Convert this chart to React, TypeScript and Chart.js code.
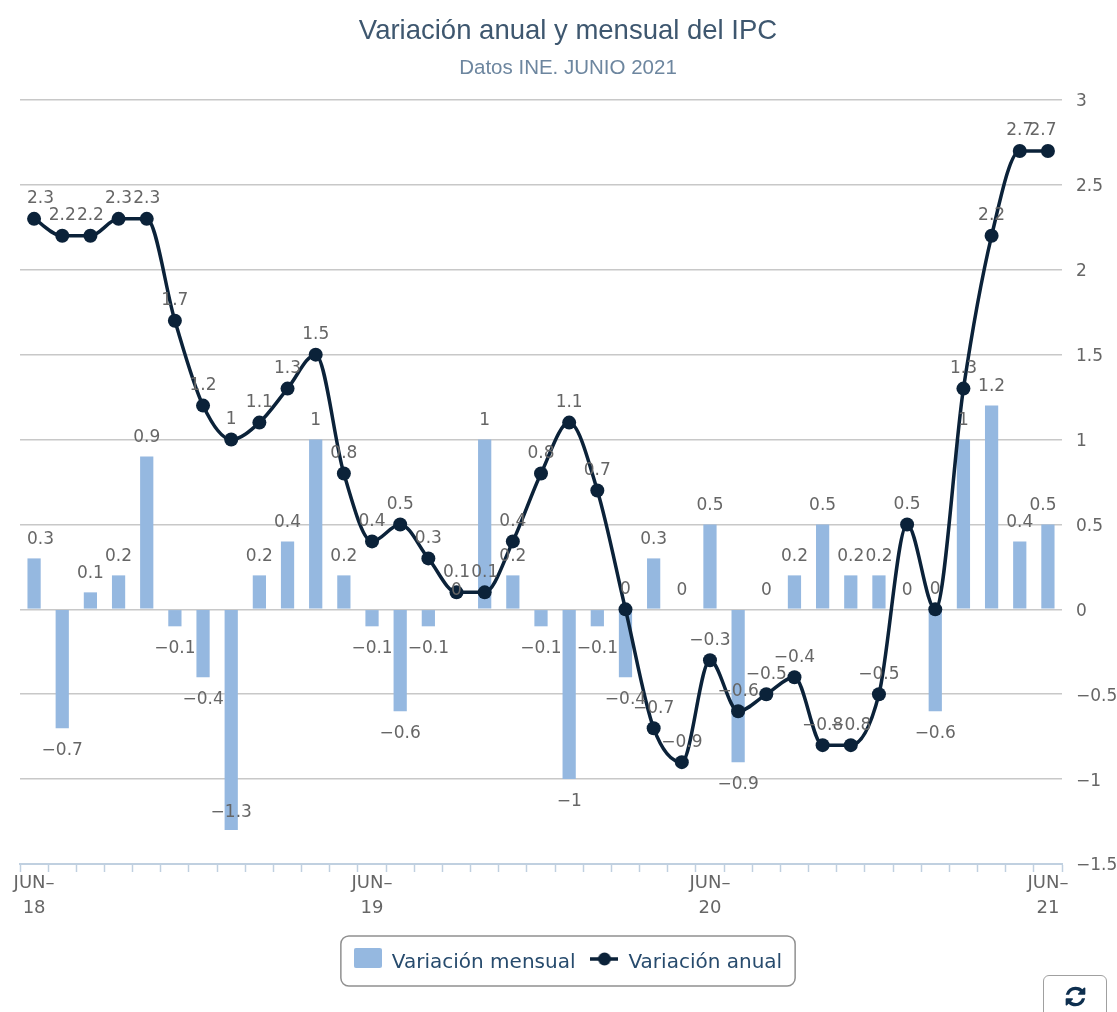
import React, { useEffect, useRef } from "react";
import { Chart, registerables } from "chart.js";

Chart.register(...registerables);

const categories = [
  "JUN-18","JUL-18","AGO-18","SEP-18","OCT-18","NOV-18","DIC-18","ENE-19","FEB-19","MAR-19","ABR-19","MAY-19",
  "JUN-19","JUL-19","AGO-19","SEP-19","OCT-19","NOV-19","DIC-19","ENE-20","FEB-20","MAR-20","ABR-20","MAY-20",
  "JUN-20","JUL-20","AGO-20","SEP-20","OCT-20","NOV-20","DIC-20","ENE-21","FEB-21","MAR-21","ABR-21","MAY-21",
  "JUN-21",
];
const variacionMensual = [
  0.3,-0.7,0.1,0.2,0.9,-0.1,-0.4,-1.3,0.2,0.4,1,0.2,
  -0.1,-0.6,-0.1,0,1,0.2,-0.1,-1,-0.1,-0.4,0.3,0,
  0.5,-0.9,0,0.2,0.5,0.2,0.2,0,-0.6,1,1.2,0.4,
  0.5,
];
const variacionAnual = [
  2.3,2.2,2.2,2.3,2.3,1.7,1.2,1,1.1,1.3,1.5,0.8,
  0.4,0.5,0.3,0.1,0.1,0.4,0.8,1.1,0.7,0,-0.7,-0.9,
  -0.3,-0.6,-0.5,-0.4,-0.8,-0.8,-0.5,0.5,0,1.3,2.2,2.7,
  2.7,
];
const TITLE = "Variación anual y mensual del IPC";
const SUBTITLE = "Datos INE. JUNIO 2021";
const SERIES_BAR = "Variación mensual";
const SERIES_LINE = "Variación anual";

const BAR_COLOR = "#95b8e0";
const LINE_COLOR = "#0b2239";
const LABEL_COLOR = "#666666";
const AXIS_FONT = "'DejaVu Sans'";

const fmt = (v: number) => String(v).replace("-", "\u2212");

function makeSwatch(kind: "bar" | "line") {
  const c = document.createElement("canvas");
  c.width = 28;
  c.height = 30;
  const x = c.getContext("2d")!;
  if (kind === "bar") {
    x.fillStyle = BAR_COLOR;
    x.beginPath();
    x.roundRect(0, 0, 28, 20, 2);
    x.fill();
  } else {
    x.strokeStyle = LINE_COLOR;
    x.lineWidth = 3.5;
    x.beginPath();
    x.moveTo(0, 11);
    x.lineTo(28, 11);
    x.stroke();
    x.fillStyle = LINE_COLOR;
    x.beginPath();
    x.arc(14, 11, 6.5, 0, Math.PI * 2);
    x.fill();
  }
  return c;
}

const dataLabels = {
  id: "dataLabels",
  afterDatasetsDraw(chart: any) {
    const { ctx, chartArea } = chart;
    ctx.save();
    ctx.font = `17px ${AXIS_FONT}`;
    ctx.fillStyle = LABEL_COLOR;
    ctx.textAlign = "center";
    ctx.textBaseline = "middle";
    const put = (v: number, px: number, py: number) => {
      const t = fmt(v);
      const hw = ctx.measureText(t).width / 2;
      const x = Math.min(Math.max(px, chartArea.left + 7 + hw), chartArea.right - 5.5 - hw);
      ctx.fillText(t, x, py);
    };
    chart.getDatasetMeta(0).data.forEach((el: any, i: number) => {
      const v = variacionMensual[i];
      let y = v >= 0 ? el.y - 19 : el.y + 22;
      if (v < -1.1) y = el.y - 17;
      put(v, el.x, y);
    });
    chart.getDatasetMeta(1).data.forEach((el: any, i: number) => {
      put(variacionAnual[i], el.x, el.y - 20);
    });
    ctx.restore();
  },
};

const legendFrame = {
  id: "legendFrame",
  afterDraw(chart: any) {
    const lg = chart.legend;
    if (!lg || !lg.legendHitBoxes || !lg.legendHitBoxes.length) return;
    const boxes = lg.legendHitBoxes;
    const left = boxes[0].left - 13;
    const last = boxes[boxes.length - 1];
    const right = last.left + last.width + 13;
    const { ctx } = chart;
    ctx.save();
    ctx.strokeStyle = "#909090";
    ctx.lineWidth = 1.5;
    ctx.beginPath();
    ctx.roundRect(left, 936, right - left, 50, 8);
    ctx.stroke();
    ctx.restore();
  },
};

export default function App() {
  const ref = useRef<HTMLCanvasElement>(null);

  useEffect(() => {
    const swatches = [makeSwatch("bar"), makeSwatch("line")];
    const chart = new Chart(ref.current!, {
      type: "bar",
      data: {
        labels: categories,
        datasets: [
          {
            type: "bar",
            label: SERIES_BAR,
            data: variacionMensual,
            backgroundColor: BAR_COLOR,
            categoryPercentage: 1,
            barPercentage: 0.47,
            order: 2,
          },
          {
            type: "line",
            label: SERIES_LINE,
            data: variacionAnual,
            borderColor: LINE_COLOR,
            backgroundColor: LINE_COLOR,
            borderWidth: 3.5,
            pointRadius: 7,
            pointBackgroundColor: LINE_COLOR,
            pointBorderColor: LINE_COLOR,
            pointBorderWidth: 0,
            cubicInterpolationMode: "monotone",
            fill: false,
            order: 1,
          },
        ] as any,
      },
      plugins: [dataLabels, legendFrame],
      options: {
        responsive: false,
        animation: false,
        devicePixelRatio: 1,
        layout: { padding: { left: 20, right: 1, top: 0, bottom: 29 } },
        plugins: {
          tooltip: { enabled: false },
          title: {
            display: true,
            text: TITLE,
            color: "#3e576f",
            font: { family: "'Liberation Sans'", size: 27.5, weight: "normal" },
            padding: { top: 15, bottom: 7.7 },
          },
          subtitle: {
            display: true,
            text: SUBTITLE,
            color: "#6d869f",
            font: { family: "'Liberation Sans'", size: 20.5, weight: "normal" },
            padding: { top: 0, bottom: 19.7 },
          },
          legend: {
            display: true,
            position: "bottom",
            labels: {
              usePointStyle: true,
              pointStyleWidth: 28,
              boxHeight: 20,
              padding: 15,
              color: "#274b6d",
              font: { family: AXIS_FONT, size: 20 },
              generateLabels: (c: any) =>
                c.data.datasets.map((d: any, i: number) => ({
                  text: d.label,
                  datasetIndex: i,
                  pointStyle: swatches[i],
                  fontColor: "#274b6d",
                  fillStyle: i === 0 ? BAR_COLOR : LINE_COLOR,
                  strokeStyle: "transparent",
                  lineWidth: 0,
                })),
            },
          },
        },
        scales: {
          x: {
            offset: true,
            afterFit: (s: any) => {
              s.height = 74;
            },
            border: { display: true, color: "#c0d0e0", width: 2 },
            grid: {
              display: true,
              offset: true,
              drawOnChartArea: false,
              drawTicks: true,
              tickLength: 8,
              tickWidth: 1.5,
              tickColor: "#c0d0e0",
            },
            ticks: {
              autoSkip: false,
              maxRotation: 0,
              minRotation: 0,
              color: LABEL_COLOR,
              padding: -1,
              font: { family: AXIS_FONT, size: 18, lineHeight: 1.39 },
              callback(this: any, _v: any, i: number) {
                const label = categories[i];
                if (!label.startsWith("JUN")) return "";
                const [m, y] = label.split("-");
                return [m + "\u2013", y];
              },
            },
          },
          y: {
            position: "right",
            min: -1.5,
            max: 3,
            afterFit: (s: any) => {
              s.width = 54;
            },
            afterUpdate: (s: any) => {
              if (s.__shifted) return;
              s.__shifted = true;
              const orig = s._computeLabelItems.bind(s);
              s._computeLabelItems = (ca: any) =>
                orig(ca).map((it: any) => ({
                  ...it,
                  options: {
                    ...it.options,
                    translation: [it.options.translation[0], it.options.translation[1] + 2],
                  },
                }));
            },
            border: { display: false },
            grid: { color: "#c8c8c8", lineWidth: 1.5, drawTicks: false },
            ticks: {
              stepSize: 0.5,
              padding: 14,
              crossAlign: "near",
              color: LABEL_COLOR,
              font: { family: AXIS_FONT, size: 17 },
              callback: (v: any) => fmt(Number(v)),
            },
          },
        },
      } as any,
    });
    return () => chart.destroy();
  }, []);

  return (
    <div style={{ position: "absolute", left: 0, top: 0, width: 1117, height: 1012, overflow: "hidden", background: "#fff" }}>
      <canvas ref={ref} width={1117} height={1012} style={{ display: "block" }} />
      <div
        style={{
          position: "absolute",
          left: 1043,
          top: 975,
          width: 64,
          height: 60,
          boxSizing: "border-box",
          border: "1.5px solid #a0a0a0",
          borderRadius: 6,
          background: "#fff",
        }}
      >
        <svg
          viewBox="0 0 1792 1792"
          width="23"
          height="23"
          style={{ position: "absolute", left: 20, top: 9 }}
        >
          <path
            fill="#0e2f4f"
            d="M1639 1056q0 5-1 7-64 268-268 434.5t-478 166.5q-146 0-282.5-55t-243.5-157l-129 129q-19 19-45 19t-45-19-19-45v-448q0-26 19-45t45-19h448q26 0 45 19t19 45-19 45l-137 137q71 66 161 102t187 36q134 0 250-65t186-179q11-17 53-117 8-23 30-23h192q13 0 22.5 9.5t9.5 22.5zm25-800v448q0 26-19 45t-45 19h-448q-26 0-45-19t-19-45 19-45l138-138q-148-137-349-137-134 0-250 65t-186 179q-11 17-53 117-8 23-30 23h-199q-13 0-22.5-9.5t-9.5-22.5v-7q65-268 270-434.5t480-166.5q146 0 284 55.5t245 156.5l130-129q19-19 45-19t45 19 19 45z"
          />
        </svg>
      </div>
    </div>
  );
}
